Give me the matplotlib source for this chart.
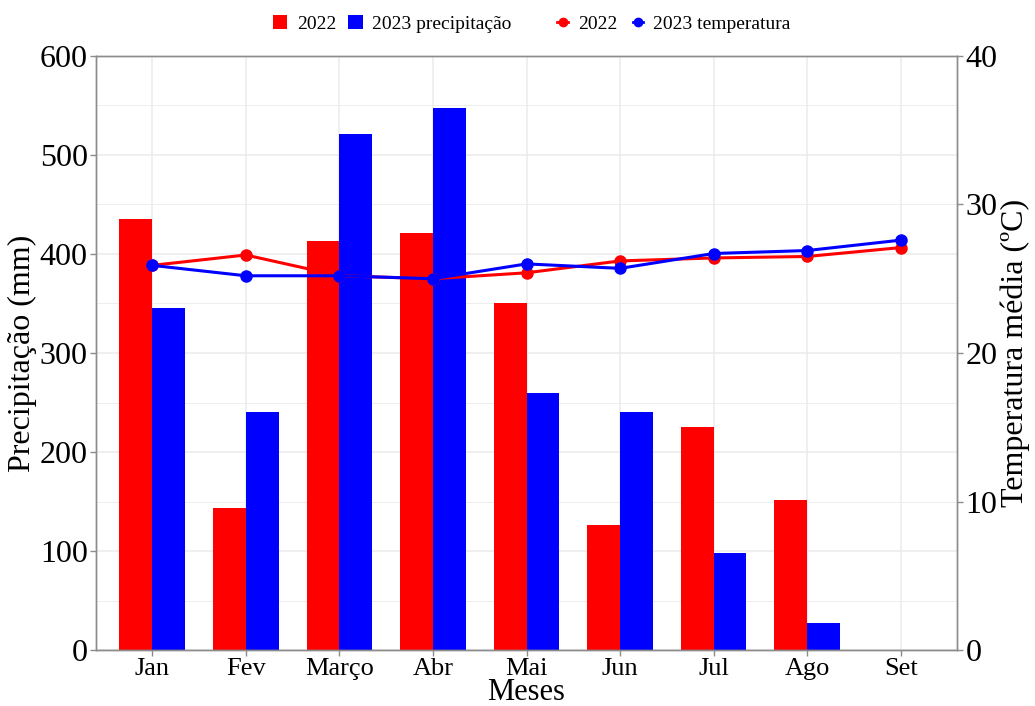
import numpy as np
import matplotlib.pyplot as plt
from matplotlib.patches import Patch
from matplotlib.lines import Line2D

# ── data ─────────────────────────────────────────────────────
meses = ["Jan", "Fev", "Março", "Abr", "Mai", "Jun", "Jul", "Ago", "Set"]

prec_2022 = [435, 143, 413, 421, 350, 126, 225, 152, np.nan]
prec_2023 = [345, 240, 521, 547, 260, 240, 98, 27, np.nan]

temp_2022 = [25.9, 26.6, 25.2, 25.0, 25.4, 26.2, 26.4, 26.5, 27.1]
temp_2023 = [25.9, 25.2, 25.2, 25.0, 26.0, 25.7, 26.7, 26.9, 27.6]

RED  = "#FF0000"
BLUE = "#0000FF"
GRID = "#EBEBEB"
AXIS = "#8C8C8C"

plt.rcParams['font.family'] = ['Liberation Serif', 'DejaVu Serif']

fig = plt.figure(figsize=(10.35, 7.06), dpi=100)
ax = fig.add_axes([0.0928, 0.0793, 0.8318, 0.8414])

x = np.arange(len(meses))
w = 0.35

# grid (major + minor) behind everything
ax.set_yticks(np.arange(0, 601, 100))
ax.set_yticks(np.arange(50, 600, 100), minor=True)
ax.grid(axis='y', which='major', color=GRID, linewidth=1.1, zorder=0)
ax.grid(axis='y', which='minor', color=GRID, linewidth=0.6, zorder=0)
ax.grid(axis='x', which='major', color=GRID, linewidth=1.1, zorder=0)
ax.set_axisbelow(True)

ax.bar(x - w / 2, prec_2022, width=w, color=RED, zorder=2)
ax.bar(x + w / 2, prec_2023, width=w, color=BLUE, zorder=2)

ax.set_xlim(-0.6, len(meses) - 0.4)
ax.set_ylim(0, 600)
ax.set_xticks(x)
ax.set_xticklabels(meses)
ax.tick_params(axis='x', which='major', labelsize=19, colors=AXIS,
               labelcolor='black', length=4, width=1, pad=2)
ax.tick_params(axis='y', which='major', labelsize=23, colors=AXIS,
               labelcolor='black', length=4, width=1, pad=2)
ax.tick_params(axis='y', which='minor', length=0)
ax.set_ylabel("Precipitação (mm)", fontsize=23, labelpad=2)

# x title placed by hand, just under the tick labels
fig.text(526 / 1035, 6 / 706, "Meses", fontsize=22, ha='center', va='baseline')

for s in ax.spines.values():
    s.set_color(AXIS)
    s.set_linewidth(1)

# temperature on the secondary axis
ax2 = ax.twinx()
ax2.set_ylim(0, 40)
ax2.set_yticks(np.arange(0, 41, 10))
ax2.plot(x, temp_2022, color=RED, linewidth=2.2, marker='o', markersize=8, zorder=3)
ax2.plot(x, temp_2023, color=BLUE, linewidth=2.2, marker='o', markersize=8, zorder=4)
ax2.tick_params(axis='y', labelsize=23, colors=AXIS, labelcolor='black',
                length=4, width=1, pad=2)
ax2.set_ylabel("Temperatura média (ºC)", fontsize=23, labelpad=2)
for s in ax2.spines.values():
    s.set_color(AXIS)
    s.set_linewidth(1)

# legends at the top
h_bar = [Patch(facecolor=RED, edgecolor='none'), Patch(facecolor=BLUE, edgecolor='none')]
fig.legend(h_bar, ["2022", "2023 precipitação"], loc='center',
           bbox_to_anchor=(0.379, 0.966), ncol=2, frameon=False,
           fontsize=14, handlelength=0.75, handleheight=0.75,
           handletextpad=0.5, columnspacing=0.6)
h_lin = [Line2D([0], [0], color=RED, linewidth=2, marker='o', markersize=6),
         Line2D([0], [0], color=BLUE, linewidth=2, marker='o', markersize=6)]
fig.legend(h_lin, ["2022", "2023 temperatura"], loc='center',
           bbox_to_anchor=(0.651, 0.966), ncol=2, frameon=False,
           fontsize=14, handlelength=0.55, handletextpad=0.5, columnspacing=0.8)

fig.savefig("out.png", dpi=100)
